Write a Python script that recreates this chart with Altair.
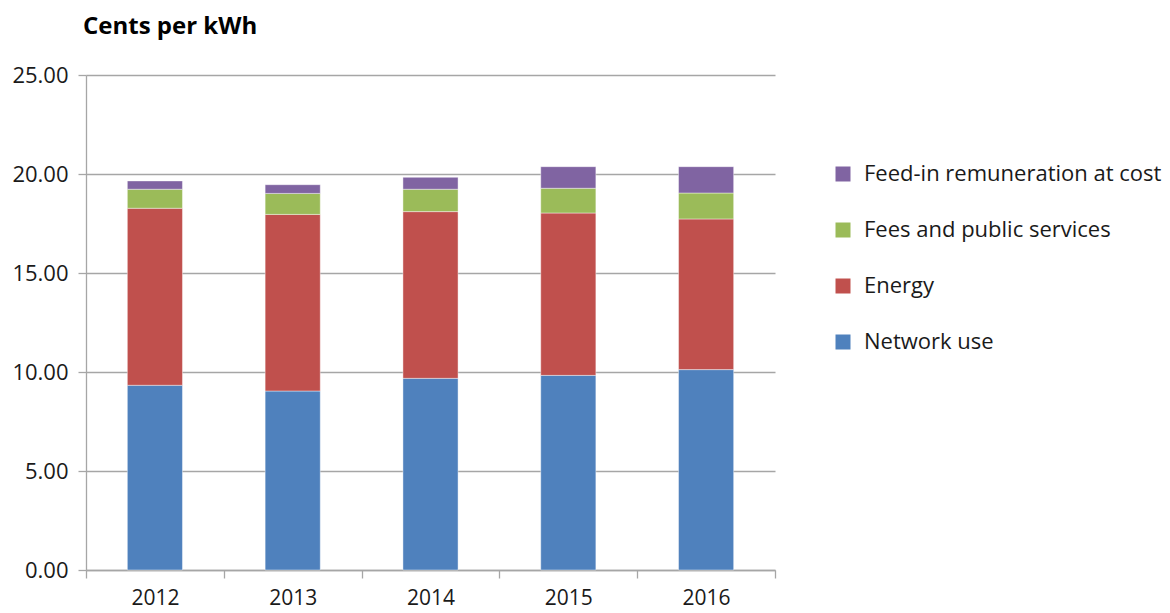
import altair as alt
import pandas as pd

years = ["2012", "2013", "2014", "2015", "2016"]
components = ["Network use", "Energy", "Fees and public services", "Feed-in remuneration at cost"]
network_use = [9.33, 9.04, 9.68, 9.83, 10.12]
energy = [8.94, 8.92, 8.42, 8.20, 7.61]
fees = [0.96, 1.06, 1.13, 1.25, 1.31]
feed_in = [0.42, 0.44, 0.60, 1.09, 1.33]
colors = ["#4F81BD", "#C0504D", "#9BBB59", "#8064A2"]

series = [network_use, energy, fees, feed_in]
rows = []
for ci, (name, vals) in enumerate(zip(components, series)):
    for y, v in zip(years, vals):
        rows.append({"Year": y, "Component": name, "Value": v, "idx": ci})
df = pd.DataFrame(rows)

legend_order = components[::-1]
legend_colors = colors[::-1]

FONT = "Open Sans"

chart = alt.Chart(df).mark_bar(stroke="white", strokeWidth=0.6, strokeOpacity=0.7,
                               width={"band": 0.4}).encode(
    x=alt.X("Year:N", title=None, sort=years,
            scale=alt.Scale(paddingInner=0, paddingOuter=0),
            axis=alt.Axis(labelAngle=0, tickBand="extent", ticks=True, tickSize=8,
                          tickColor="#A6A6A6", tickWidth=1.3, domainColor="#A6A6A6",
                          domainWidth=1.3, labelFontSize=21, labelFont=FONT,
                          labelColor="#1a1a1a", labelPadding=9, grid=False)),
    y=alt.Y("Value:Q", title=None, stack="zero",
            scale=alt.Scale(domain=[0, 25], nice=False),
            axis=alt.Axis(values=[0, 5, 10, 15, 20, 25], format=".2f", tickSize=8,
                          tickColor="#A6A6A6", tickWidth=1.3, domainColor="#A6A6A6",
                          domainWidth=1.3, gridColor="#A6A6A6", gridWidth=1.3,
                          labelFontSize=22, labelFont=FONT, labelColor="#1a1a1a",
                          labelPadding=10)),
    color=alt.Color("Component:N", title=None,
                    scale=alt.Scale(domain=legend_order, range=legend_colors),
                    legend=alt.Legend(orient="none", legendX=746, legendY=88,
                                      symbolType="square", symbolSize=225,
                                      symbolStrokeWidth=0, labelFontSize=22,
                                      labelFont=FONT, labelColor="#1a1a1a",
                                      labelOffset=10, rowPadding=34, padding=0,
                                      labelLimit=400)),
    order=alt.Order("idx:Q", sort="ascending"),
).properties(
    width=689, height=495,
    title=alt.TitleParams("Cents per kWh", anchor="start", frame="group", dx=-3,
                          offset=25, fontSize=24, font=FONT, fontWeight="bold",
                          color="#000000"),
    padding={"left": 78, "top": 67, "right": 387, "bottom": 40},
    autosize=alt.AutoSizeParams(type="none"),
).configure_view(stroke=None)

chart.save("out.html", embed_options={"renderer": "svg", "actions": False})
